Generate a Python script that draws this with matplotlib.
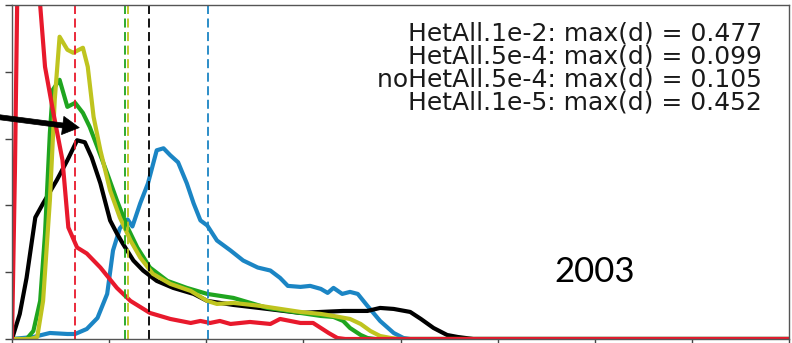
import numpy as np
import matplotlib.pyplot as plt

# d values (x) and density (y) for each run
black_x = [0.000, 0.008, 0.015, 0.024, 0.032, 0.046, 0.057, 0.067, 0.075, 0.082, 0.091, 0.101,
           0.108, 0.114, 0.125, 0.135, 0.149, 0.166, 0.187, 0.201, 0.228, 0.263, 0.297, 0.318,
           0.341, 0.366, 0.379, 0.393, 0.410, 0.421, 0.434, 0.448, 0.459, 0.475, 0.800]
black_y = [0.00, 0.75, 1.83, 3.64, 4.06, 4.75, 5.35, 5.95, 5.89, 5.44, 4.66, 3.55,
           3.16, 2.86, 2.35, 2.05, 1.74, 1.53, 1.35, 1.14, 1.02, 0.90, 0.78, 0.81,
           0.84, 0.84, 0.93, 0.90, 0.81, 0.60, 0.33, 0.12, 0.06, 0.00, 0.00]

green_x = [0.000, 0.015, 0.022, 0.029, 0.034, 0.039, 0.042, 0.049, 0.057, 0.065, 0.073, 0.080,
           0.088, 0.098, 0.108, 0.119, 0.129, 0.142, 0.160, 0.180, 0.201, 0.228, 0.263, 0.297,
           0.318, 0.331, 0.341, 0.348, 0.359, 0.366, 0.374, 0.800]
green_y = [0.00, 0.00, 0.24, 1.14, 3.16, 6.17, 7.46, 7.76, 6.95, 7.07, 6.77, 6.35,
           5.74, 4.96, 4.15, 3.34, 2.74, 2.14, 1.74, 1.53, 1.35, 1.23, 0.93, 0.78,
           0.69, 0.66, 0.54, 0.33, 0.12, 0.03, 0.00, 0.00]

yellow_x = [0.000, 0.019, 0.026, 0.032, 0.039, 0.044, 0.049, 0.057, 0.063, 0.073, 0.078, 0.084,
            0.091, 0.101, 0.111, 0.122, 0.132, 0.145, 0.163, 0.184, 0.201, 0.211, 0.228, 0.256,
            0.297, 0.318, 0.331, 0.348, 0.359, 0.369, 0.379, 0.390, 0.398, 0.800]
yellow_y = [0.00, 0.00, 0.06, 1.14, 4.15, 7.16, 9.05, 8.66, 8.57, 8.72, 8.15, 6.65,
            5.65, 4.45, 3.64, 2.95, 2.44, 1.95, 1.65, 1.44, 1.14, 1.05, 1.08, 0.99,
            0.81, 0.75, 0.69, 0.60, 0.45, 0.24, 0.09, 0.03, 0.00, 0.00]

blue_x = [0.000, 0.022, 0.039, 0.057, 0.065, 0.077, 0.088, 0.098, 0.104, 0.111, 0.119, 0.124,
          0.132, 0.140, 0.149, 0.156, 0.163, 0.171, 0.180, 0.187, 0.194, 0.201, 0.211, 0.225,
          0.238, 0.253, 0.266, 0.276, 0.284, 0.297, 0.307, 0.318, 0.325, 0.331, 0.340, 0.348,
          0.356, 0.366, 0.379, 0.393, 0.403, 0.410, 0.800]
blue_y = [0.00, 0.06, 0.18, 0.15, 0.15, 0.30, 0.63, 1.35, 2.65, 3.31, 3.58, 3.37,
          4.06, 4.66, 5.65, 5.71, 5.50, 5.29, 4.66, 4.06, 3.55, 3.40, 2.95, 2.65,
          2.35, 2.14, 2.05, 1.83, 1.59, 1.56, 1.59, 1.50, 1.38, 1.53, 1.35, 1.41,
          1.35, 0.99, 0.54, 0.18, 0.03, 0.00, 0.00]

red_x = [0.000, 0.003, 0.006, 0.012, 0.018, 0.024, 0.029, 0.034, 0.042, 0.052, 0.058, 0.067,
         0.077, 0.091, 0.108, 0.122, 0.142, 0.163, 0.184, 0.194, 0.204, 0.214, 0.225, 0.245,
         0.266, 0.276, 0.297, 0.310, 0.318, 0.326, 0.335, 0.343, 0.800]
red_y = [0.00, 5.00, 11.5, 15.0, 15.5, 13.0, 10.0, 8.15, 6.86, 5.35, 3.34, 2.74,
         2.56, 2.14, 1.53, 1.14, 0.78, 0.60, 0.48, 0.54, 0.48, 0.54, 0.45, 0.51,
         0.45, 0.60, 0.48, 0.48, 0.33, 0.18, 0.03, 0.00, 0.00]

# mean d of each run (dashed markers)
means = {"black": 0.141, "blue": 0.202, "green": 0.1165, "yellow": 0.1196, "red": 0.065}

labels = ["HetAll.1e-2: max(d) = 0.477",
          "HetAll.5e-4: max(d) = 0.099",
          "noHetAll.5e-4: max(d) = 0.105",
          "HetAll.1e-5: max(d) = 0.452"]

colors = {"black": "#000000", "blue": "#1b85c4", "green": "#1fa51f",
          "yellow": "#bfc41f", "red": "#e8192c"}

fig = plt.figure(figsize=(7.92, 3.43), dpi=100)
ax = fig.add_axes([12 / 792, 4 / 343, 777 / 792, 334 / 343])

series = [("blue", blue_x, blue_y), ("black", black_x, black_y),
          ("green", green_x, green_y), ("yellow", yellow_x, yellow_y),
          ("red", red_x, red_y)]
for name, xs, ys in series:
    ax.plot(xs, ys, color=colors[name], lw=3, solid_joinstyle="round")

for name in ["red", "green", "yellow", "black", "blue"]:
    ax.axvline(means[name], color=colors[name], lw=1.3, ls="--", dashes=(5, 2.5))

ax.set_xlim(0, 0.8)
ax.set_ylim(0, 10)
ax.set_xticks(np.arange(0, 0.81, 0.1))
ax.set_yticks(np.arange(0, 10.1, 2))
ax.tick_params(colors="#444444", length=5, width=1, labelsize=10)
for sp in ax.spines.values():
    sp.set_color("#555555")
    sp.set_linewidth(1.0)

for i, lab in enumerate(labels):
    fig.text(762 / 792, 1 - (41 + 22.7 * i) / 343, lab, ha="right", va="baseline",
             fontsize=18, color="#1a1a1a", family="DejaVu Sans")

fig.text(595 / 792, 1 - 282 / 343, "2003", ha="center", va="baseline",
         fontsize=25, family="Lato", color="black")

ax.annotate("", xy=(82, 343 - 128), xycoords="figure pixels",
            xytext=(-10, 343 - 116), textcoords="figure pixels",
            arrowprops=dict(arrowstyle="simple,head_length=1.0,head_width=1.1,tail_width=0.3",
                            mutation_scale=12, color="black", lw=0.5))

fig.savefig("out.png", dpi=100)
